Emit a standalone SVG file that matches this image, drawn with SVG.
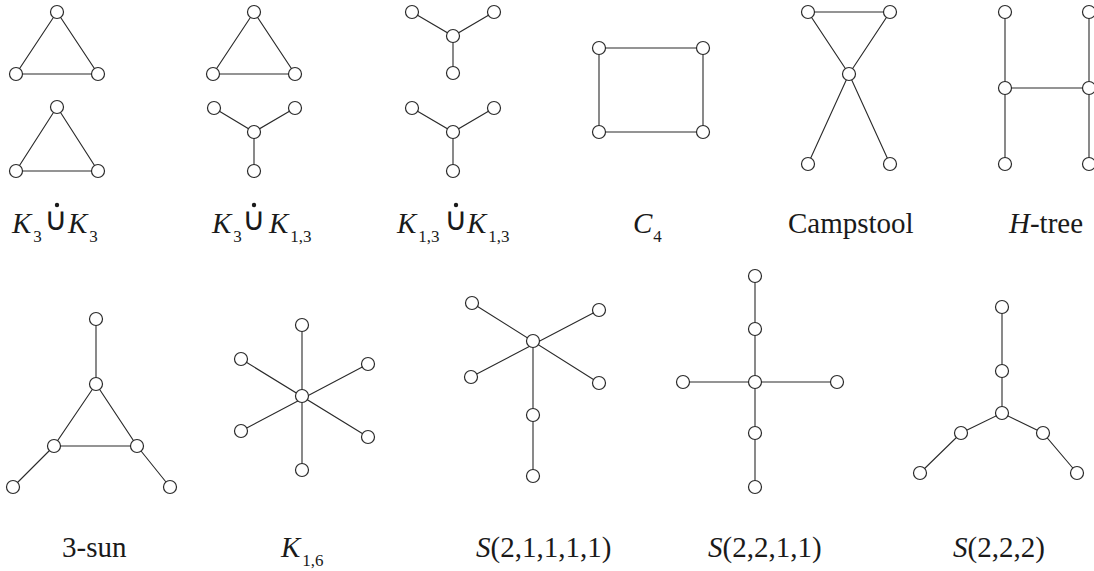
<svg xmlns="http://www.w3.org/2000/svg" width="1094" height="571" viewBox="0 0 1094 571">
<style>
.e{stroke:#2a2a2a;stroke-width:1.1;fill:none}
.n circle{fill:#fff;stroke:#2a2a2a;stroke-width:1.2}
.t{font-size:29px;fill:#1a1a1a}
.i{font-style:italic}
.s{font-size:17px;font-style:normal}
.u{font-size:32px;fill:#1a1a1a;text-anchor:middle}
.d{fill:#1a1a1a}
</style>
<rect width="1094" height="571" fill="#fff"/>
<g id="connectors" class="e">
<path d="M57 12L16 74L98 74Z M57 107L16 171L98 171Z"/>
<path d="M254 12L213 74L295 74Z M214 108L254 132L295 108 M254 132L254 171"/>
<path d="M412 12L453 36L494 12 M453 36L453 73 M412 108L453 132L494 108 M453 132L453 171"/>
<path d="M599 48H703V132H599Z"/>
<path d="M808 12H890L849 74Z M849 74L808 164 M849 74L890 164"/>
<path d="M1005 12V164 M1089 12V164 M1005 88H1089"/>
<path d="M96 319V384 M96 384L54 446H137Z M54 446L13 487 M137 446L170 487"/>
<path d="M302 325V470 M241 359L368 437 M368 364L241 431"/>
<path d="M472 303L599 383 M599 310L471 377 M533 341V476"/>
<path d="M755 276V487 M683 382H837"/>
<path d="M1002 307V413 M920 473L961 433L1002 413L1043 433L1077 473"/>
</g>
<g id="g-k3-k3" class="n">
<circle id="a1" cx="57" cy="12" r="6.5"/><circle id="a2" cx="16" cy="74" r="6.5"/><circle id="a3" cx="98" cy="74" r="6.5"/>
<circle id="a4" cx="57" cy="107" r="6.5"/><circle id="a5" cx="16" cy="171" r="6.5"/><circle id="a6" cx="98" cy="171" r="6.5"/>
</g>
<g id="g-k3-k13" class="n">
<circle id="b1" cx="254" cy="12" r="6.5"/><circle id="b2" cx="213" cy="74" r="6.5"/><circle id="b3" cx="295" cy="74" r="6.5"/>
<circle id="b4" cx="214" cy="108" r="6.5"/><circle id="b5" cx="295" cy="108" r="6.5"/><circle id="b6" cx="254" cy="132" r="6.5"/><circle id="b7" cx="254" cy="171" r="6.5"/>
</g>
<g id="g-k13-k13" class="n">
<circle id="c1" cx="412" cy="12" r="6.5"/><circle id="c2" cx="494" cy="12" r="6.5"/><circle id="c3" cx="453" cy="36" r="6.5"/><circle id="c4" cx="453" cy="73" r="6.5"/>
<circle id="c5" cx="412" cy="108" r="6.5"/><circle id="c6" cx="494" cy="108" r="6.5"/><circle id="c7" cx="453" cy="132" r="6.5"/><circle id="c8" cx="453" cy="171" r="6.5"/>
</g>
<g id="g-c4" class="n">
<circle id="d1" cx="599" cy="48" r="6.5"/><circle id="d2" cx="703" cy="48" r="6.5"/><circle id="d3" cx="703" cy="132" r="6.5"/><circle id="d4" cx="599" cy="132" r="6.5"/>
</g>
<g id="g-campstool" class="n">
<circle id="e1" cx="808" cy="12" r="6.5"/><circle id="e2" cx="890" cy="12" r="6.5"/><circle id="e3" cx="849" cy="74" r="6.5"/><circle id="e4" cx="808" cy="164" r="6.5"/><circle id="e5" cx="890" cy="164" r="6.5"/>
</g>
<g id="g-htree" class="n">
<circle id="f1" cx="1005" cy="12" r="6.5"/><circle id="f2" cx="1005" cy="88" r="6.5"/><circle id="f3" cx="1005" cy="164" r="6.5"/>
<circle id="f4" cx="1089" cy="12" r="6.5"/><circle id="f5" cx="1089" cy="88" r="6.5"/><circle id="f6" cx="1089" cy="164" r="6.5"/>
</g>
<g id="g-3sun" class="n">
<circle id="h1" cx="96" cy="319" r="6.5"/><circle id="h2" cx="96" cy="384" r="6.5"/><circle id="h3" cx="54" cy="446" r="6.5"/><circle id="h4" cx="137" cy="446" r="6.5"/><circle id="h5" cx="13" cy="487" r="6.5"/><circle id="h6" cx="170" cy="487" r="6.5"/>
</g>
<g id="g-k16" class="n">
<circle id="k1" cx="302" cy="325" r="6.5"/><circle id="k2" cx="241" cy="359" r="6.5"/><circle id="k3" cx="368" cy="364" r="6.5"/><circle id="k4" cx="302" cy="396" r="6.5"/>
<circle id="k5" cx="241" cy="431" r="6.5"/><circle id="k6" cx="368" cy="437" r="6.5"/><circle id="k7" cx="302" cy="470" r="6.5"/>
</g>
<g id="g-s21111" class="n">
<circle id="m1" cx="472" cy="303" r="6.5"/><circle id="m2" cx="599" cy="310" r="6.5"/><circle id="m3" cx="533" cy="341" r="6.5"/><circle id="m4" cx="471" cy="377" r="6.5"/>
<circle id="m5" cx="599" cy="383" r="6.5"/><circle id="m6" cx="533" cy="415" r="6.5"/><circle id="m7" cx="533" cy="476" r="6.5"/>
</g>
<g id="g-s2211" class="n">
<circle id="p1" cx="755" cy="276" r="6.5"/><circle id="p2" cx="755" cy="329" r="6.5"/><circle id="p3" cx="683" cy="382" r="6.5"/><circle id="p4" cx="755" cy="382" r="6.5"/>
<circle id="p5" cx="837" cy="382" r="6.5"/><circle id="p6" cx="755" cy="433" r="6.5"/><circle id="p7" cx="755" cy="487" r="6.5"/>
</g>
<g id="g-s222" class="n">
<circle id="q1" cx="1002" cy="307" r="6.5"/><circle id="q2" cx="1002" cy="371" r="6.5"/><circle id="q3" cx="1002" cy="413" r="6.5"/><circle id="q4" cx="961" cy="433" r="6.5"/>
<circle id="q5" cx="1043" cy="433" r="6.5"/><circle id="q6" cx="920" cy="473" r="6.5"/><circle id="q7" cx="1077" cy="473" r="6.5"/>
</g>
<g id="labels" font-family="Liberation Serif, Tinos, Times New Roman, DejaVu Serif, serif">
<text class="t i" x="12" y="233">K<tspan class="s" dx="2" dy="9">3</tspan></text>
<text class="u" font-family="DejaVu Sans, sans-serif" x="56" y="230">∪</text><circle class="d" cx="57" cy="205" r="2.2"/>
<text class="t i" x="68" y="233">K<tspan class="s" dx="2" dy="9">3</tspan></text>

<text class="t i" x="212" y="233">K<tspan class="s" dx="2" dy="9">3</tspan></text>
<text class="u" font-family="DejaVu Sans, sans-serif" x="254" y="230">∪</text><circle class="d" cx="254" cy="205" r="2.2"/>
<text class="t i" x="269" y="233">K<tspan class="s" dx="2" dy="9">1,3</tspan></text>

<text class="t i" x="397" y="233">K<tspan class="s" dx="2" dy="9">1,3</tspan></text>
<text class="u" font-family="DejaVu Sans, sans-serif" x="456" y="230">∪</text><circle class="d" cx="456" cy="205" r="2.2"/>
<text class="t i" x="467" y="233">K<tspan class="s" dx="2" dy="9">1,3</tspan></text>

<text class="t i" x="633" y="233">C<tspan class="s" dx="1" dy="9">4</tspan></text>
<text class="t" x="788" y="233">Campstool</text>
<text class="t" x="1009" y="233"><tspan class="i">H</tspan>-tree</text>

<text class="t" x="62" y="557">3-sun</text>
<text class="t i" x="281" y="557">K<tspan class="s" dx="2" dy="9">1,6</tspan></text>
<text class="t" x="476" y="557"><tspan class="i">S</tspan>(2,1,1,1,1)</text>
<text class="t" x="708" y="557"><tspan class="i">S</tspan>(2,2,1,1)</text>
<text class="t" x="953" y="557"><tspan class="i">S</tspan>(2,2,2)</text>
</g>
</svg>
